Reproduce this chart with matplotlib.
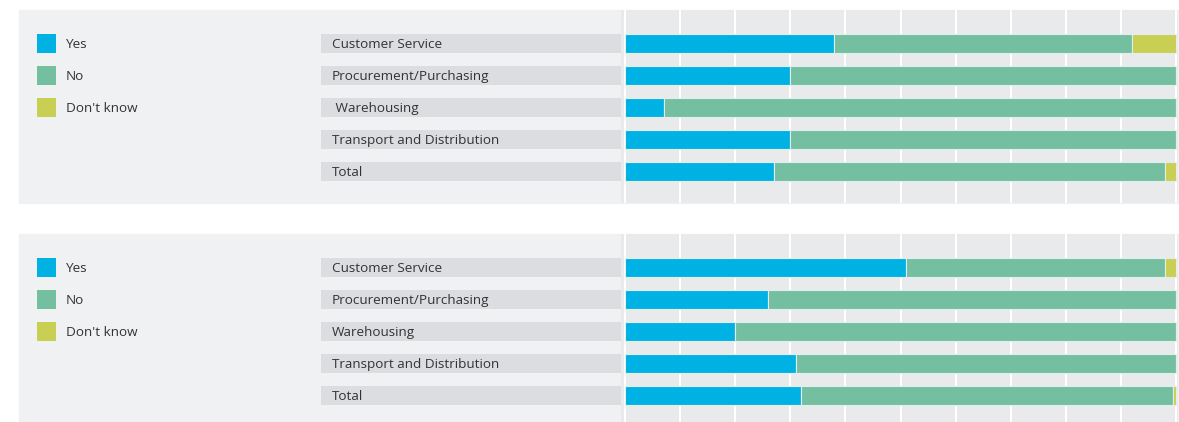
import matplotlib
matplotlib.use('Agg')
import matplotlib.pyplot as plt
from matplotlib.patches import Rectangle

plt.rcParams['font.family'] = ['Open Sans', 'DejaVu Sans']

# survey answers, percent of respondents per area
answers = ['Yes', 'No', "Don't know"]
colors = ['#00b2e3', '#73bfa0', '#c8cf52']

top_labels = ['Customer Service', 'Procurement/Purchasing', ' Warehousing',
              'Transport and Distribution', 'Total']
top_yes = [38, 30, 7, 30, 27]
top_no = [54, 70, 93, 70, 71]
top_dk = [8, 0, 0, 0, 2]

bottom_labels = ['Customer Service', 'Procurement/Purchasing', 'Warehousing',
                 'Transport and Distribution', 'Total']
bottom_yes = [51, 26, 20, 31, 32]
bottom_no = [47, 74, 80, 69, 67.5]
bottom_dk = [2, 0, 0, 0, 0.5]

W, H = 1179, 422
ROW = 32.0
BAR_H = 19 / ROW
TEXT = '#333333'
FS = 9.7


def box(x0, y0, x1, y1):
    return [x0 / W, 1 - y1 / H, (x1 - x0) / W, (y1 - y0) / H]


def draw_panel(fig, top, bottom, labels, series):
    fig.add_artist(Rectangle((19 / W, 1 - bottom / H), (W - 19) / W, (bottom - top) / H,
                             transform=fig.transFigure, color='#f0f1f3', zorder=0))
    ylim = ((bottom - top - 33) / ROW, -33 / ROW)
    rows = range(len(labels))

    # legend
    lg = fig.add_axes(box(19, top, 321, bottom))
    lg.set_xlim(0, 302)
    lg.set_ylim(*ylim)
    lg.axis('off')
    for i, (name, c) in enumerate(zip(answers, colors)):
        lg.barh(i, 19, left=18, height=BAR_H, color=c)
        lg.text(47, i, name, va='center_baseline', ha='left', fontsize=FS, color=TEXT)

    # category name boxes
    la = fig.add_axes(box(321, top, 621, bottom))
    la.set_xlim(0, 300)
    la.set_ylim(*ylim)
    la.axis('off')
    la.barh(rows, 300, height=BAR_H, color='#dcdde1')
    for i, lab in enumerate(labels):
        la.text(11, i, lab, va='center_baseline', ha='left', fontsize=FS, color=TEXT)

    # stacked bars
    ax = fig.add_axes(box(621, top, 1178, bottom))
    ax.set_facecolor('#e9eaec')
    ax.set_xlim(-4 / 5.51, 100 + 2 / 5.51)
    ax.set_ylim(*ylim)
    ax.set_xticks(range(0, 101, 10))
    ax.set_yticks([])
    ax.tick_params(length=0, labelbottom=False)
    ax.grid(axis='x', color='white', lw=1.5)
    ax.set_axisbelow(True)
    for s in ax.spines.values():
        s.set_visible(False)
    left = [0] * len(labels)
    for vals, c in zip(series, colors):
        ax.barh(rows, vals, left=left, height=BAR_H, color=c,
                edgecolor='#e4eeee', linewidth=0.8)
        left = [a + b for a, b in zip(left, vals)]


fig = plt.figure(figsize=(W / 100, H / 100), dpi=100)
draw_panel(fig, 10, 203, top_labels, [top_yes, top_no, top_dk])
draw_panel(fig, 234, 422, bottom_labels, [bottom_yes, bottom_no, bottom_dk])
fig.savefig('out.png', dpi=100, facecolor='white')
